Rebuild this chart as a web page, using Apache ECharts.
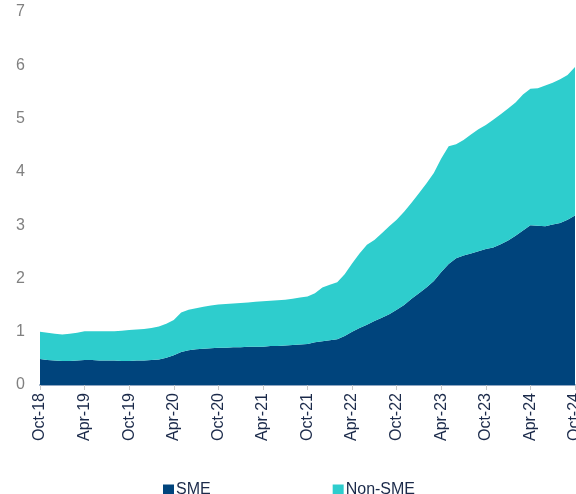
<!DOCTYPE html>
<html>
<head>
<meta charset="utf-8">
<script src="https://cdn.jsdelivr.net/npm/echarts@6/dist/echarts.min.js"></script>
<style>
  html, body { margin: 0; padding: 0; background: #fff; }
  #chart { width: 576px; height: 494px; }
</style>
</head>
<body>
<div id="chart"></div>
<script>
// monthly points, Oct-18 .. Oct-24
var months = [
  "Oct-18","Nov-18","Dec-18","Jan-19","Feb-19","Mar-19","Apr-19","May-19","Jun-19","Jul-19","Aug-19","Sep-19",
  "Oct-19","Nov-19","Dec-19","Jan-20","Feb-20","Mar-20","Apr-20","May-20","Jun-20","Jul-20","Aug-20","Sep-20",
  "Oct-20","Nov-20","Dec-20","Jan-21","Feb-21","Mar-21","Apr-21","May-21","Jun-21","Jul-21","Aug-21","Sep-21",
  "Oct-21","Nov-21","Dec-21","Jan-22","Feb-22","Mar-22","Apr-22","May-22","Jun-22","Jul-22","Aug-22","Sep-22",
  "Oct-22","Nov-22","Dec-22","Jan-23","Feb-23","Mar-23","Apr-23","May-23","Jun-23","Jul-23","Aug-23","Sep-23",
  "Oct-23","Nov-23","Dec-23","Jan-24","Feb-24","Mar-24","Apr-24","May-24","Jun-24","Jul-24","Aug-24","Sep-24",
  "Oct-24"
];

var sme = [
  0.49,0.47,0.46,0.45,0.45,0.46,0.47,0.47,0.46,0.46,0.46,0.45,
  0.45,0.46,0.46,0.47,0.48,0.51,0.56,0.62,0.65,0.67,0.68,0.69,
  0.70,0.70,0.71,0.71,0.72,0.72,0.72,0.73,0.73,0.74,0.75,0.76,
  0.77,0.80,0.82,0.84,0.86,0.92,1.00,1.07,1.13,1.20,1.26,1.33,
  1.41,1.50,1.62,1.72,1.83,1.95,2.12,2.27,2.38,2.43,2.47,2.51,
  2.55,2.58,2.64,2.71,2.80,2.90,3.00,2.99,2.98,3.01,3.04,3.10,
  3.18
];

var nonSme = [
  0.51,0.51,0.50,0.50,0.51,0.52,0.54,0.54,0.55,0.55,0.55,0.57,
  0.58,0.58,0.59,0.60,0.62,0.64,0.66,0.74,0.76,0.77,0.79,0.80,
  0.81,0.82,0.82,0.83,0.83,0.84,0.85,0.85,0.86,0.86,0.87,0.88,
  0.89,0.92,1.01,1.04,1.07,1.16,1.28,1.40,1.50,1.52,1.59,1.65,
  1.69,1.75,1.80,1.88,1.95,2.03,2.13,2.21,2.14,2.17,2.23,2.29,
  2.33,2.40,2.44,2.48,2.50,2.55,2.56,2.58,2.64,2.66,2.70,2.72,
  2.79
];

var myChart = echarts.init(document.getElementById("chart"));
var options = {
  animation: false,
  textStyle: { fontFamily: "Liberation Sans, Arial, sans-serif" },
  grid: { left: 40, right: 1, top: 12, bottom: 109, containLabel: false, outerBoundsMode: "none" },
  legend: {
    left: 158,
    top: 477,
    icon: "rect",
    itemWidth: 11,
    itemHeight: 11,
    itemGap: 122,
    textStyle: { fontSize: 16, color: "#1b2a4a", padding: [0, 0, 0, -3] },
    data: ["SME", "Non-SME"]
  },
  xAxis: {
    type: "category",
    data: months,
    boundaryGap: false,
    axisLine: { lineStyle: { color: "#8fa6c2", width: 2 } },
    axisTick: { show: true, interval: 5, length: 5, lineStyle: { color: "#c8c8c8" } },
    axisLabel: {
      interval: 5,
      rotate: 90,
      fontSize: 16,
      color: "#1b2a4a",
      margin: 8
    },
    splitLine: { show: false }
  },
  yAxis: {
    type: "value",
    min: 0,
    max: 7,
    interval: 1,
    axisLine: { show: false },
    axisTick: { show: false },
    splitLine: { show: false },
    axisLabel: { fontSize: 16, color: "#808080", margin: 15 }
  },
  series: [
    {
      name: "SME",
      type: "line",
      stack: "total",
      data: sme,
      showSymbol: false,
      lineStyle: { width: 0 },
      itemStyle: { color: "#00447c" },
      areaStyle: { color: "#00447c", opacity: 1 }
    },
    {
      name: "Non-SME",
      type: "line",
      stack: "total",
      data: nonSme,
      showSymbol: false,
      lineStyle: { width: 0 },
      itemStyle: { color: "#2ecdcd" },
      areaStyle: { color: "#2ecdcd", opacity: 1 }
    }
  ]
};
myChart.setOption(options);
</script>
</body>
</html>
